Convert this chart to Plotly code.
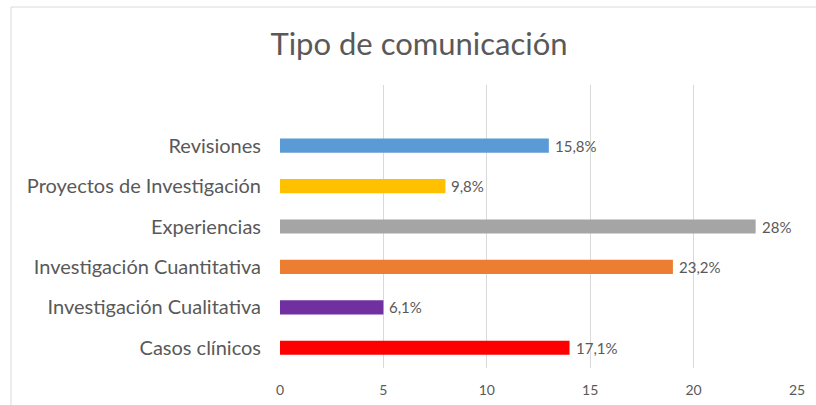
import plotly.graph_objects as go

categories = ["Casos clínicos", "Investigación Cualitativa", "Investigación Cuantitativa",
              "Experiencias", "Proyectos de Investigación", "Revisiones"]
values = [14, 5, 19, 23, 8, 13]
labels = ["17,1%", "6,1%", "23,2%", "28%", "9,8%", "15,8%"]
colors = ["#FF0000", "#7030A0", "#ED7D31", "#A5A5A5", "#FFC000", "#5B9BD5"]
x_ticks = [0, 5, 10, 15, 20, 25]

FONT = "Lato, 'Open Sans', sans-serif"
GREY = "#595959"

fig = go.Figure()
fig.add_trace(go.Bar(
    y=categories, x=values, orientation="h",
    marker=dict(color=colors, line=dict(width=0)),
    width=0.35, hoverinfo="skip",
))

for c, v, t in zip(categories, values, labels):
    fig.add_annotation(x=v, y=c, text=t, xanchor="left", yanchor="middle",
                       xshift=4, showarrow=False,
                       font=dict(family=FONT, size=15, color=GREY))

L, R, T, B = 280, 797, 85, 368
def px_x(p):
    return (p - L) / (R - L)
def px_y(p):
    return (B - p) / (B - T)

fig.add_shape(type="rect", xref="paper", yref="paper",
              x0=px_x(11), x1=px_x(900), y0=px_y(500), y1=px_y(7),
              line=dict(color="#D9D9D9", width=1), fillcolor="rgba(0,0,0,0)",
              layer="below")

fig.update_layout(
    width=816, height=405,
    margin=dict(l=L, r=816 - R, t=T, b=405 - B, autoexpand=False),
    paper_bgcolor="white", plot_bgcolor="white",
    showlegend=False,
    title=dict(text="Tipo de comunicación", x=419 / 816, xanchor="center",
               y=1 - 44 / 405, yanchor="middle", automargin=False,
               font=dict(family=FONT, size=31, color=GREY)),
    xaxis=dict(range=[0, 25], tickvals=x_ticks, showgrid=True, automargin=False,
               gridcolor="#D9D9D9", gridwidth=1, zeroline=False,
               showline=False, ticks="", ticklabelstandoff=12,
               tickfont=dict(family=FONT, size=14, color=GREY), fixedrange=True),
    yaxis=dict(type="category", categoryorder="array", categoryarray=categories,
               range=[-0.5, 6.5], showgrid=False, zeroline=False, automargin=False,
               showline=False, ticks="", ticklabelstandoff=18,
               tickfont=dict(family=FONT, size=20, color=GREY), fixedrange=True),
)

fig.write_html("out.html")
